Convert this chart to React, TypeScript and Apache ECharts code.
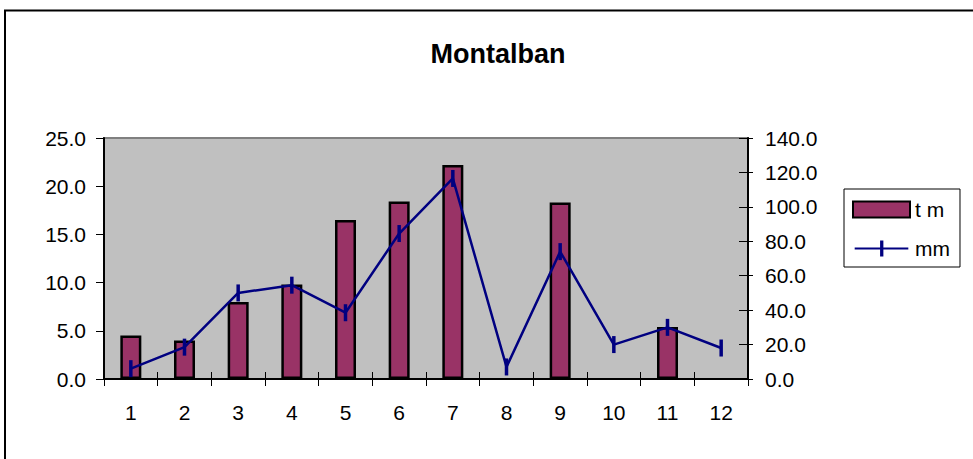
import React, { useEffect, useRef } from "react";
import * as echarts from "echarts";

const months = ["1", "2", "3", "4", "5", "6", "7", "8", "9", "10", "11", "12"];
const tmValues = [4.5, 4.0, 8.0, 9.8, 16.5, 18.4, 22.2, 0, 18.3, 0, 5.4, 0];
const mmValues = [6.0, 18.5, 50.0, 54.5, 38.5, 84.5, 116.5, 7.0, 74.0, 20.0, 30.0, 18.0];
const titleText = "Montalban";
const seriesNames = ["t m", "mm"];

const FONT = "'Liberation Sans', Arial, sans-serif";

export default function App() {
  const ref = useRef<HTMLDivElement>(null);
  useEffect(() => {
    if (!ref.current) return;
    const chart = echarts.init(ref.current, undefined, { renderer: "svg" });
    const labelStyle = { color: "#000", fontSize: 21, fontFamily: FONT };
    chart.setOption({
      animation: false,
      backgroundColor: "#fff",
      textStyle: { fontFamily: FONT },
      title: {
        text: titleText,
        left: 493,
        top: 35,
        textAlign: "center",
        textStyle: { fontSize: 27, fontWeight: "bold", color: "#000", fontFamily: FONT },
      },
      graphic: [
        {
          type: "rect",
          shape: { x: 5, y: 10.5, width: 1100, height: 600 },
          style: { fill: "none", stroke: "#000", lineWidth: 2 },
          silent: true,
          z: -10,
        },
      ],
      legend: {
        orient: "vertical",
        left: 844,
        top: 189,
        padding: [10, 10, 8, 8],
        itemWidth: 57,
        itemHeight: 16,
        itemGap: 18,
        borderColor: "#000",
        borderWidth: 1,
        backgroundColor: "#fff",
        textStyle: { fontSize: 21, color: "#000", fontFamily: FONT },
        data: [
          { name: seriesNames[0], icon: "rect" },
          {
            name: seriesNames[1],
            icon: "path://M0,7.5 L57,7.5 L57,9.5 L0,9.5 Z M27,0 L30.5,0 L30.5,17 L27,17 Z",
            itemStyle: { color: "#000080", borderWidth: 0 },
          },
        ],
      },
      grid: {
        left: 104,
        top: 138,
        right: 225,
        bottom: 80,
        show: true,
        backgroundColor: "#C0C0C0",
        borderColor: "#808080",
        borderWidth: 2,
        outerBoundsMode: "none",
        containLabel: false,
      },
      xAxis: [
        {
          type: "category",
          data: months,
          position: "bottom",
          boundaryGap: true,
          axisLine: { show: true, lineStyle: { color: "#000", width: 2 } },
          axisTick: { show: true, length: 7, lineStyle: { color: "#000", width: 1 } },
          axisLabel: { ...labelStyle, margin: 23 },
          splitLine: { show: false },
        },
        {
          type: "category",
          data: months,
          position: "bottom",
          offset: 0,
          boundaryGap: true,
          axisLine: { show: false },
          axisTick: { show: true, inside: true, length: 7, lineStyle: { color: "#000", width: 1 } },
          axisLabel: { show: false },
          splitLine: { show: false },
        },
      ],
      yAxis: [
        {
          type: "value",
          position: "left",
          min: 0,
          max: 25,
          interval: 5,
          axisLine: { show: true, lineStyle: { color: "#000", width: 2 } },
          axisTick: { show: true, length: 8, lineStyle: { color: "#000", width: 1 } },
          axisLabel: { ...labelStyle, margin: 18, formatter: (v: number) => v.toFixed(1) },
          splitLine: { show: false },
        },
        {
          type: "value",
          position: "right",
          min: 0,
          max: 140,
          interval: 20,
          axisLine: { show: true, lineStyle: { color: "#000", width: 2 } },
          axisTick: { show: true, length: 5, lineStyle: { color: "#000", width: 1 } },
          axisLabel: { ...labelStyle, margin: 17, formatter: (v: number) => v.toFixed(1) },
          splitLine: { show: false },
        },
        {
          type: "value",
          position: "right",
          offset: 0,
          min: 0,
          max: 140,
          interval: 20,
          axisLine: { show: false },
          axisTick: { show: true, inside: true, length: 9, lineStyle: { color: "#000", width: 1 } },
          axisLabel: { show: false },
          splitLine: { show: false },
        },
      ],
      series: [
        {
          name: seriesNames[0],
          type: "bar",
          xAxisIndex: 0,
          yAxisIndex: 0,
          data: tmValues.map((v) =>
            v === 0 ? { value: v, itemStyle: { borderWidth: 0, opacity: 0 } } : v
          ),
          barWidth: 21,
          itemStyle: { color: "#993366", borderColor: "#000", borderWidth: 2.5 },
          z: 2,
        },
        {
          name: seriesNames[1],
          type: "line",
          xAxisIndex: 0,
          yAxisIndex: 1,
          data: mmValues,
          symbol: "rect",
          symbolSize: [3.5, 17],
          showAllSymbol: true,
          lineStyle: { color: "#000080", width: 2.5 },
          itemStyle: { color: "#000080" },
          z: 3,
        },
      ],
    });
    return () => chart.dispose();
  }, []);
  return (
    <div
      ref={ref}
      style={{ position: "fixed", left: 0, top: 0, width: 973, height: 459 }}
    />
  );
}
